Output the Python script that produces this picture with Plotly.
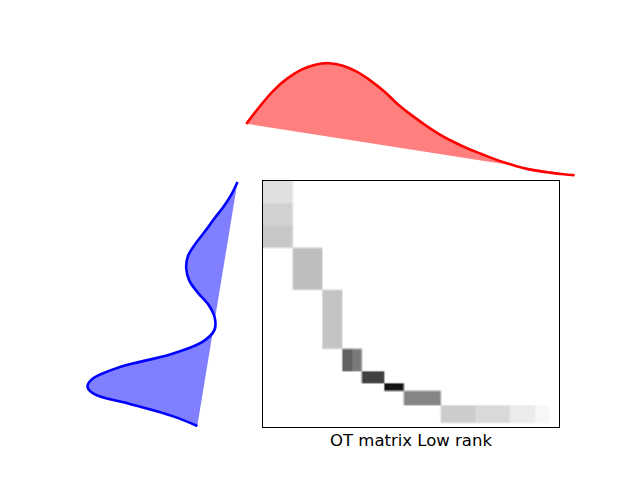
import numpy as np
import plotly.graph_objects as go

# ---- data ----
# target distribution b (top, red), values x1e-3, at column indices
b_idx = [0, 5, 10, 15, 20, 25, 30, 35, 40, 45, 50, 55, 60, 65, 70, 75, 80, 85, 90, 95, 100, 105, 110, 115, 119]
b_val = [8.70, 11.40, 13.80, 15.60, 16.88, 17.63, 17.85, 17.48, 16.58, 15.23, 13.58, 11.63, 9.98, 8.48,
         7.13, 6.00, 5.03, 4.20, 3.38, 2.70, 2.10, 1.65, 1.35, 1.10, 0.96]

# source distribution a (left, blue), values x1e-3, at row indices
a_idx = [0, 5, 10, 15, 20, 25, 30, 35, 40, 45, 50, 55, 60, 65, 70, 75, 80, 83, 86, 90, 95, 99]
a_val = [0.75, 1.35, 2.15, 3.10, 4.00, 4.95, 5.70, 5.88, 5.57, 4.70, 3.62, 3.03, 3.05, 4.30, 7.50, 12.45,
         15.30, 15.75, 15.10, 11.60, 7.25, 4.77]

n_rows = 100
n_cols = 120

# low-rank coupling blocks: row range, column range, intensity (0 = white, 1 = black)
blk_row0 = [0, 9, 18, 27, 44, 68, 68, 77, 82, 85, 91, 91, 91, 91]
blk_row1 = [9, 18, 27, 44, 68, 77, 77, 82, 85, 91, 98, 98, 98, 98]
blk_col0 = [0, 0, 0, 12, 24, 32, 36, 40, 49, 57, 72, 86, 100, 110]
blk_col1 = [12, 12, 12, 24, 32, 36, 40, 49, 57, 72, 86, 100, 110, 116]
blk_level = [0.12, 0.18, 0.22, 0.26, 0.23, 0.62, 0.52, 0.75, 0.92, 0.48, 0.20, 0.15, 0.08, 0.03]

title = "OT matrix Low rank"

# ---- build coupling matrix from blocks ----
M = np.zeros((n_rows, n_cols))
for r0, r1, c0, c1, lv in zip(blk_row0, blk_row1, blk_col0, blk_col1, blk_level):
    M[r0:r1, c0:c1] = lv

# page body has an 8px margin: figure is sized to fit the 640x480 window
OFF = 8
W, H = 640 - OFF, 480 - OFF
def fx(px):
    return (px - OFF) / W
def fy(py):
    return 1 - (py - OFF) / H

fig = go.Figure()

# top: b
fig.add_trace(go.Scatter(x=b_idx, y=b_val, mode="lines", fill="toself",
                         fillcolor="rgba(255,0,0,0.5)", line=dict(color="rgba(255,0,0,0.5)", width=1, shape="spline"),
                         xaxis="x", yaxis="y", hoverinfo="skip", showlegend=False))
fig.add_trace(go.Scatter(x=b_idx, y=b_val, mode="lines", line=dict(color="red", width=2.6, shape="spline"),
                         xaxis="x", yaxis="y", showlegend=False))

# left: a
fig.add_trace(go.Scatter(x=a_val, y=a_idx, mode="lines", fill="toself",
                         fillcolor="rgba(0,0,255,0.5)", line=dict(color="rgba(0,0,255,0.5)", width=1, shape="spline"),
                         xaxis="x2", yaxis="y2", hoverinfo="skip", showlegend=False))
fig.add_trace(go.Scatter(x=a_val, y=a_idx, mode="lines", line=dict(color="blue", width=2.6, shape="spline"),
                         xaxis="x2", yaxis="y2", showlegend=False))

# matrix
fig.add_trace(go.Heatmap(z=M, x=np.arange(n_cols), y=np.arange(n_rows), zmin=0, zmax=1,
                         colorscale=[[0, "white"], [1, "black"]], showscale=False, zsmooth="best",
                         xaxis="x3", yaxis="y3"))

bmin, bmax = min(b_val), max(b_val)
bpad = 0.05 * (bmax - bmin)
amin, amax = min(a_val), max(a_val)
apad = 0.05 * (amax - amin)

hidden = dict(visible=False, showgrid=False, zeroline=False)
fig.update_layout(
    width=W, height=H, margin=dict(l=0, r=0, t=0, b=0),
    paper_bgcolor="white", plot_bgcolor="rgba(0,0,0,0)",
    xaxis=dict(domain=[fx(245), fx(576)], range=[-0.5, n_cols - 0.5], anchor="y", **hidden),
    yaxis=dict(domain=[fy(180.8), fy(57.6)], range=[bmin - bpad, bmax + bpad], anchor="x", **hidden),
    xaxis2=dict(domain=[fx(80), fx(245)], range=[amax + apad, amin - apad], anchor="y2", **hidden),
    yaxis2=dict(domain=[fy(427.2), fy(180.8)], range=[n_rows - 0.5, -0.5], anchor="x2", **hidden),
    xaxis3=dict(domain=[fx(262.8), fx(558.8)], range=[-0.5, n_cols - 0.5], anchor="y3",
                showgrid=False, zeroline=False, showticklabels=False, ticks="",
                showline=True, mirror=True, linecolor="black", linewidth=1),
    yaxis3=dict(domain=[fy(427.2), fy(180.8)], range=[n_rows - 0.5, -0.5], anchor="x3",
                showgrid=False, zeroline=False, showticklabels=False, ticks="",
                showline=True, mirror=True, linecolor="black", linewidth=1),
    annotations=[dict(text=title, x=fx(410.8), y=fy(440), xref="paper", yref="paper",
                      xanchor="center", yanchor="middle", showarrow=False,
                      font=dict(family="DejaVu Sans", size=16.5, color="black"))],
)

fig.write_html("out.html")
